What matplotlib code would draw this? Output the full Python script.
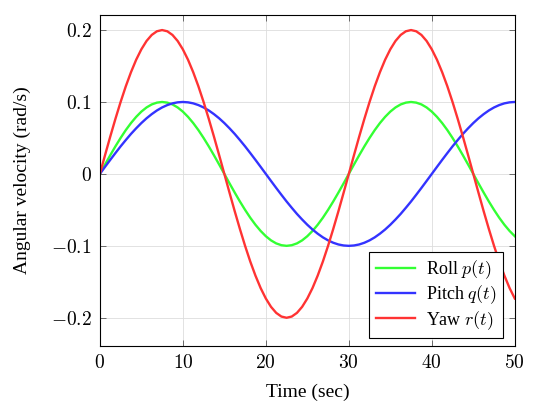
import matplotlib
matplotlib.use("Agg")
import matplotlib.pyplot as plt
from matplotlib.ticker import FuncFormatter

plt.rcParams['font.family'] = ['Liberation Serif', 'DejaVu Serif']
plt.rcParams['mathtext.fontset'] = 'cm'

# time samples (sec), every 0.625 s
t = [i * 0.625 for i in range(81)]

roll = [0, .0131, .0259, .0383, .05, .0609, .0707, .0793, .0866, .0924, .0966, .0991, .1,
        .0991, .0966, .0924, .0866, .0793, .0707, .0609, .05, .0383, .0259, .0131, 0,
        -.0131, -.0259, -.0383, -.05, -.0609, -.0707, -.0793, -.0866, -.0924, -.0966, -.0991, -.1,
        -.0991, -.0966, -.0924, -.0866, -.0793, -.0707, -.0609, -.05, -.0383, -.0259, -.0131, 0,
        .0131, .0259, .0383, .05, .0609, .0707, .0793, .0866, .0924, .0966, .0991, .1,
        .0991, .0966, .0924, .0866, .0793, .0707, .0609, .05, .0383, .0259, .0131, 0,
        -.0131, -.0259, -.0383, -.05, -.0609, -.0707, -.0793, -.0866]

pitch = [0, .0098, .0195, .029, .0383, .0471, .0556, .0634, .0707, .0773, .0831, .0882,
         .0924, .0957, .0981, .0995, .1,
         .0995, .0981, .0957, .0924, .0882, .0831, .0773, .0707, .0634, .0556, .0471,
         .0383, .029, .0195, .0098, 0,
         -.0098, -.0195, -.029, -.0383, -.0471, -.0556, -.0634, -.0707, -.0773, -.0831,
         -.0882, -.0924, -.0957, -.0981, -.0995, -.1,
         -.0995, -.0981, -.0957, -.0924, -.0882, -.0831, -.0773, -.0707, -.0634, -.0556,
         -.0471, -.0383, -.029, -.0195, -.0098, 0,
         .0098, .0195, .029, .0383, .0471, .0556, .0634, .0707, .0773, .0831, .0882,
         .0924, .0957, .0981, .0995, .1]

yaw = [0, .0261, .0518, .0765, .1, .1218, .1414, .1587, .1732, .1848, .1932, .1983, .2,
       .1983, .1932, .1848, .1732, .1587, .1414, .1218, .1, .0765, .0518, .0261, 0,
       -.0261, -.0518, -.0765, -.1, -.1218, -.1414, -.1587, -.1732, -.1848, -.1932, -.1983, -.2,
       -.1983, -.1932, -.1848, -.1732, -.1587, -.1414, -.1218, -.1, -.0765, -.0518, -.0261, 0,
       .0261, .0518, .0765, .1, .1218, .1414, .1587, .1732, .1848, .1932, .1983, .2,
       .1983, .1932, .1848, .1732, .1587, .1414, .1218, .1, .0765, .0518, .0261, 0,
       -.0261, -.0518, -.0765, -.1, -.1218, -.1414, -.1587, -.1732]

xticks = [0, 10, 20, 30, 40, 50]
yticks = [-0.2, -0.1, 0, 0.1, 0.2]

fig = plt.figure(figsize=(5.34, 4.04), dpi=100)
ax = fig.add_axes([0.187, 0.144, 0.777, 0.819])

ax.plot(t, roll, color='#33ff33', lw=1.7, label=r'Roll $p(t)$')
ax.plot(t, pitch, color='#3333ff', lw=1.7, label=r'Pitch $q(t)$')
ax.plot(t, yaw, color='#ff3333', lw=1.7, label=r'Yaw $r(t)$')

ax.set_xlim(0, 50)
ax.set_ylim(-0.239, 0.221)
ax.set_xticks(xticks)
ax.set_yticks(yticks)

def fmt(v, pos):
    if abs(v) < 1e-9:
        return r'$0$'
    return r'$' + ('%g' % v) + r'$'

ax.xaxis.set_major_formatter(FuncFormatter(fmt))
ax.yaxis.set_major_formatter(FuncFormatter(fmt))
ax.tick_params(direction='in', length=4, width=0.6, color='#555555',
               labelsize=14, top=True, right=True, pad=6)
ax.grid(True, color='#dddddd', lw=0.6)
ax.set_axisbelow(True)
for s in ax.spines.values():
    s.set_linewidth(0.8)

ax.set_xlabel('Time (sec)', fontsize=14, labelpad=8)
ax.set_ylabel('Angular velocity (rad/s)', fontsize=14, labelpad=14)

leg = ax.legend(loc='lower right', bbox_to_anchor=(0.971, 0.024), borderaxespad=0,
                fontsize=13, fancybox=False, framealpha=1, edgecolor='black',
                handlelength=2.2, labelspacing=0.15, borderpad=0.35, handletextpad=0.6)
leg.get_frame().set_linewidth(0.8)

fig.savefig('out.png', dpi=100)
